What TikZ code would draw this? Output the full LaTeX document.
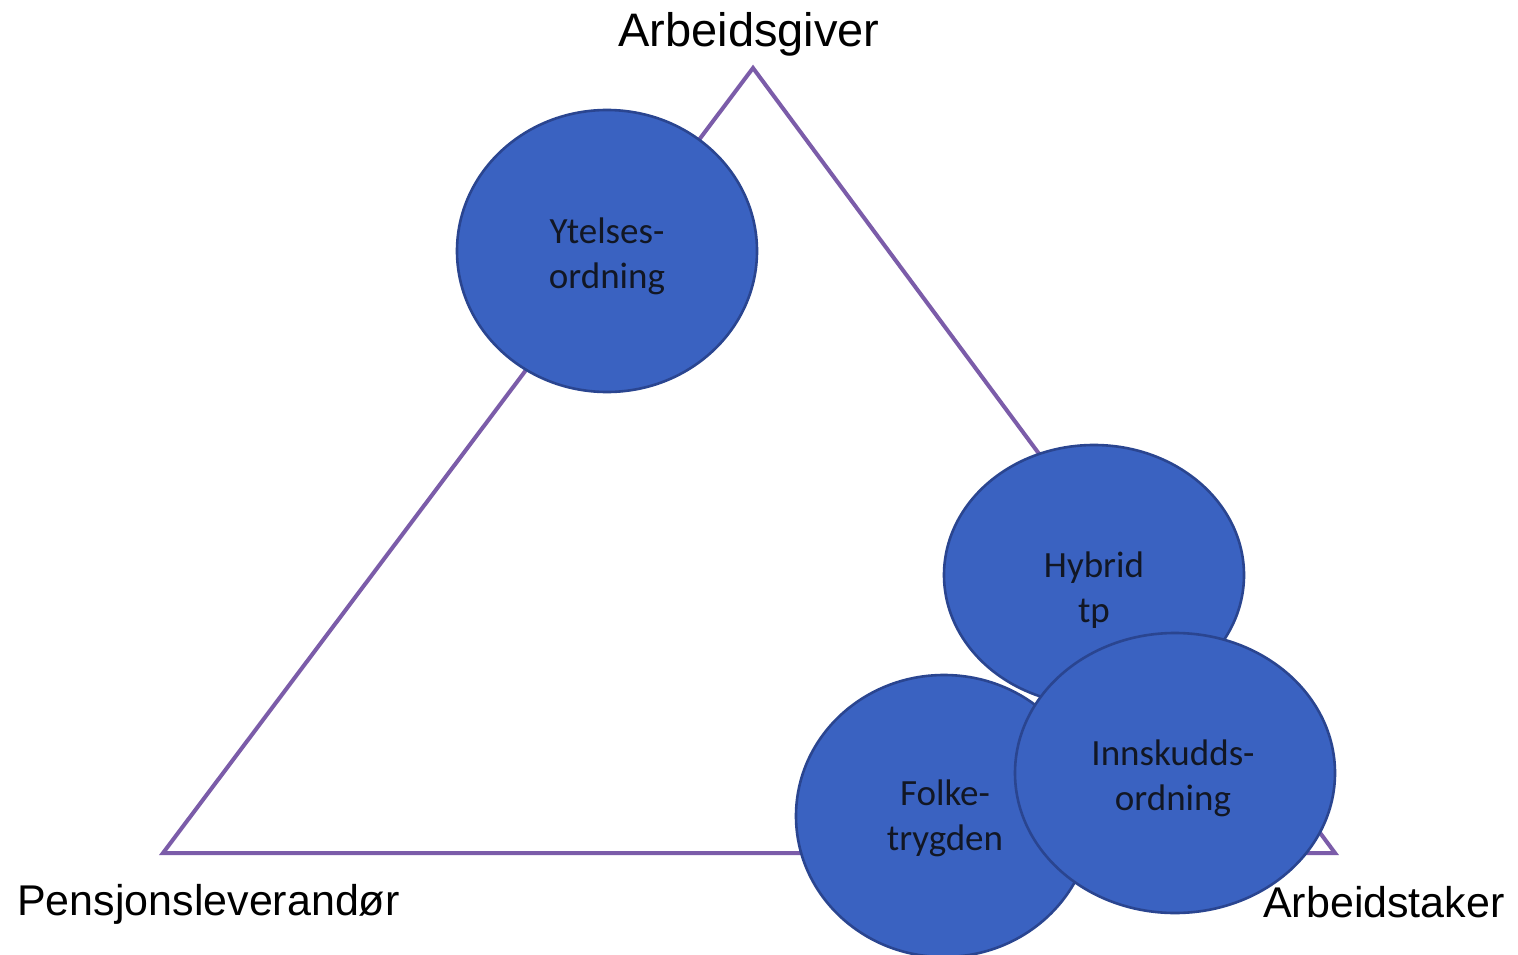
\documentclass[tikz,border=0pt]{standalone}
\usepackage{fontspec}
\setmainfont{Liberation Sans}
\newfontfamily\calfont{Carlito}
\usetikzlibrary{shapes.geometric}
\definecolor{triline}{HTML}{7B5CA9}
\definecolor{bubblefill}{HTML}{3A62C1}
\definecolor{bubbleedge}{HTML}{2A4590}
\definecolor{bubbletext}{HTML}{121724}
\begin{document}
\begin{tikzpicture}[x=1pt,y=-1pt,
  bubble/.style={ellipse,draw=bubbleedge,line width=2.6pt,fill=bubblefill,inner sep=0pt},
  bubbletxt/.style={font=\calfont\fontsize{37}{45}\selectfont,text=bubbletext,align=center,inner sep=0pt},
  corner/.style={font=\fontsize{43}{50}\selectfont,inner sep=0pt,text=black}]
\useasboundingbox (0,0) rectangle (1518,955);
\fill[white] (0,0) rectangle (1518,955);
% triangle
\coordinate (T) at (753,68);
\coordinate (L) at (163,853);
\coordinate (R) at (1335,853);
\draw[triline,line width=4pt,line join=miter] (T) -- (L) -- (R) -- cycle;
% corner labels
\node[corner,anchor=base,font=\fontsize{47}{54}\selectfont] (ag) at (749,47) {Arbeidsgiver};
\node[corner,anchor=base west] (pl) at (17,915) {Pensjonsleverandør};
\node[corner,anchor=base west] (at) at (1263,917) {Arbeidstaker};
% bubbles
\node[bubble,minimum width=300pt,minimum height=282pt] (yt) at (607,251) {};
\node[bubbletxt] (ytt) at (607,256) {Ytelses-\\ordning};
\node[bubble,minimum width=300pt,minimum height=260pt] (hy) at (1094,575) {};
\node[bubbletxt] (hyt) at (1094,590) {Hybrid\\tp};
\node[bubble,minimum width=296pt,minimum height=282pt] (fo) at (944,816) {};
\node[bubbletxt] (fot) at (945,818) {Folke-\\trygden};
\node[bubble,minimum width=320pt,minimum height=280pt] (in) at (1175,773) {};
\node[bubbletxt] (int) at (1173,778) {Innskudds-\\ordning};
\end{tikzpicture}
\end{document}
